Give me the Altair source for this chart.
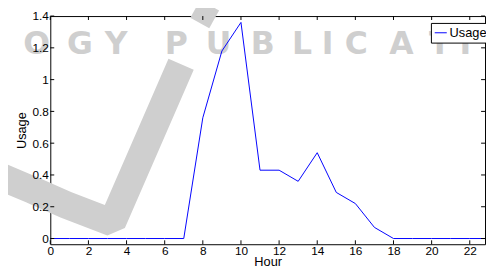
import altair as alt
import pandas as pd

# ---- data ----
hours = list(range(24))
usage = [0, 0, 0, 0, 0, 0, 0, 0, 0.76, 1.18, 1.36, 0.43, 0.43, 0.36, 0.54,
         0.29, 0.22, 0.07, 0, 0, 0, 0, 0, 0]
series_name = "Usage"
x_ticks = [0, 2, 4, 6, 8, 10, 12, 14, 16, 18, 20, 22]
y_ticks = [0, 0.2, 0.4, 0.6, 0.8, 1.0, 1.2, 1.4]

# watermark (decoration, approximate page pixel positions)
wm_letters = list("LOGYPUBLICATI")
wm_centers = [-3, 37, 81, 118, 179, 222, 267, 307, 333, 362, 408, 447, 473]
wm_letters_edge = list("ON")
wm_centers_edge = [505, 550]
swoosh_x = [0, 33, 67, 114, 184]
swoosh_y = [177, 191, 206, 224, 63]
swoosh2_x = [203, 213]
swoosh2_y = [21, 3]

W, H = 442, 232
OX, OY = 51, 14  # plot origin on page
XMAX = 22.8
YMIN, YMAX = -0.036, 1.4
FONT = "Liberation Sans"
GRAY = "#cfcfcf"


def to_hour(px):
    return (px - OX) / W * XMAX


def to_usage(py):
    return YMAX - (py - OY) / H * (YMAX - YMIN)


df = pd.DataFrame({"hour": hours, "usage": usage, "series": series_name})
wm = pd.DataFrame({"ch": wm_letters, "cx": [to_hour(c) for c in wm_centers]})
wm_edge = pd.DataFrame({"ch": wm_letters_edge, "cx": [to_hour(c) for c in wm_centers_edge]})
sw1 = pd.DataFrame({"px": [to_hour(v) for v in swoosh_x],
                    "py": [to_usage(v) for v in swoosh_y],
                    "i": list(range(len(swoosh_x)))})
sw2 = pd.DataFrame({"px": [to_hour(v) for v in swoosh2_x],
                    "py": [to_usage(v) for v in swoosh2_y],
                    "i": list(range(len(swoosh2_x)))})
xt = pd.DataFrame({"t": x_ticks})
yt = pd.DataFrame({"t": y_ticks})

xscale = alt.Scale(domain=[0, XMAX], nice=False, zero=False)
yscale = alt.Scale(domain=[YMIN, YMAX], nice=False, zero=False)

x_axis = alt.Axis(values=x_ticks, ticks=False, domain=False, grid=False, zindex=2,
                  labelFlush=False, labelOverlap=False, labelFont=FONT, labelFontSize=12,
                  labelColor="black", labelPadding=1, title="Hour",
                  titleFont=FONT, titleFontSize=13, titleFontWeight="normal",
                  titleColor="black", titlePadding=0)
y_axis = alt.Axis(values=y_ticks, format=".1~f", ticks=False, domain=False, grid=False,
                  zindex=2, labelOverlap=False, labelFont=FONT, labelFontSize=12,
                  labelColor="black", labelPadding=2, title="Usage",
                  titleFont=FONT, titleFontSize=13, titleFontWeight="normal",
                  titleColor="black", titlePadding=4)


def X(field):
    return alt.X(field, type="quantitative", scale=xscale, axis=x_axis, title="Hour")


def Y(field):
    return alt.Y(field, type="quantitative", scale=yscale, axis=y_axis, title="Usage")


swoosh1 = alt.Chart(sw1).mark_line(color=GRAY, strokeWidth=28, strokeJoin="bevel",
                                   strokeCap="butt").encode(
    x=X("px"), y=Y("py"), order="i:Q")
swoosh2 = alt.Chart(sw2).mark_line(color=GRAY, strokeWidth=22, strokeCap="butt").encode(
    x=X("px"), y=Y("py"), order="i:Q")

letters = alt.Chart(wm).mark_text(font="DejaVu Sans", fontWeight="bold", fontSize=32,
                                  color=GRAY, baseline="alphabetic", align="center").encode(
    x=X("cx"), y=alt.value(39), text="ch:N")
letters_edge = alt.Chart(wm_edge).mark_text(font="DejaVu Sans", fontWeight="bold",
                                            fontSize=32, color=GRAY, clip=True,
                                            baseline="alphabetic", align="center").encode(
    x=X("cx"), y=alt.value(39), text="ch:N")

line = alt.Chart(df).mark_line(clip=True, strokeWidth=1).encode(
    x=X("hour"),
    y=Y("usage"),
    color=alt.Color("series:N", scale=alt.Scale(domain=[series_name], range=["#0000ff"]),
                    legend=alt.Legend(orient="none", legendX=387, legendY=7, title=None,
                                      strokeColor="black", fillColor="white", padding=3,
                                      symbolType="stroke", symbolSize=150,
                                      symbolStrokeWidth=1, labelFont=FONT,
                                      labelFontSize=13, labelColor="black",
                                      labelOffset=2)),
)

tick_len = 4
xb = alt.Chart(xt).mark_rule(color="black", strokeWidth=1).encode(
    x=X("t"), y=alt.value(H), y2=alt.value(H - tick_len))
xtp = alt.Chart(xt).mark_rule(color="black", strokeWidth=1).encode(
    x=X("t"), y=alt.value(0), y2=alt.value(tick_len))
yl = alt.Chart(yt).mark_rule(color="black", strokeWidth=1).encode(
    y=Y("t"), x=alt.value(0), x2=alt.value(tick_len))
yr = alt.Chart(yt).mark_rule(color="black", strokeWidth=1).encode(
    y=Y("t"), x=alt.value(W), x2=alt.value(W - tick_len))

chart = alt.layer(swoosh1, swoosh2, letters, letters_edge, line, xb, xtp, yl, yr).properties(
    width=W, height=H,
    autosize=alt.AutoSizeParams(type="none"),
    padding={"left": 43, "top": 6, "right": 1, "bottom": 24},
    background="white",
).configure_view(stroke="black", strokeWidth=1)

chart.save("out.html", embed_options={"renderer": "svg", "actions": False})
